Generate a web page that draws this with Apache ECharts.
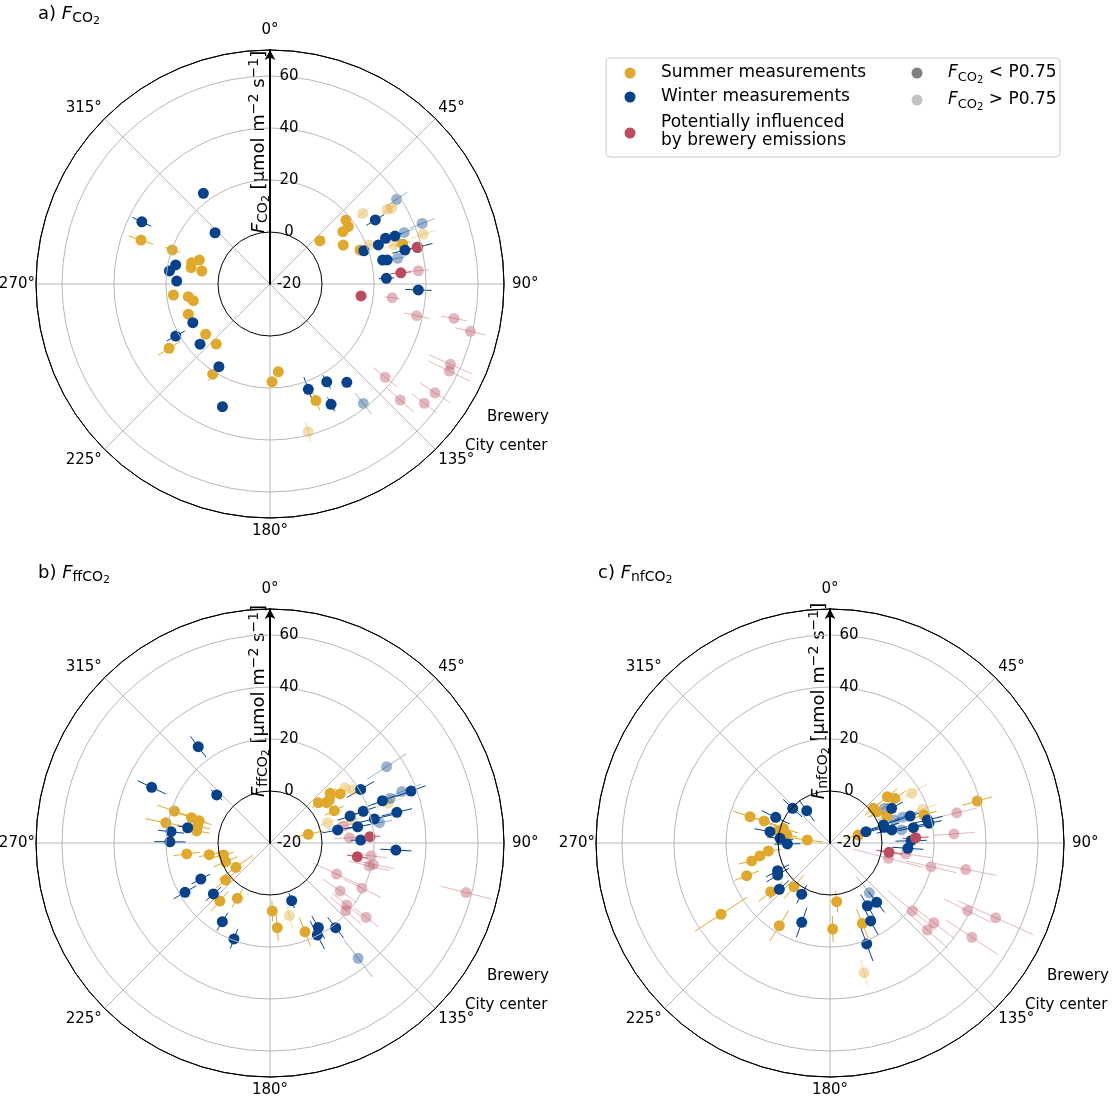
<!DOCTYPE html>
<html><head><meta charset="utf-8">
<script src="https://cdn.jsdelivr.net/npm/echarts@6/dist/echarts.min.js"></script>
<style>html,body{margin:0;padding:0;background:#fff}#c{width:1112px;height:1105px}</style>
</head><body><div id="c"></div>
<script>
// ---- data: [wind direction (deg), flux (umol m-2 s-1), uncertainty] ----
const aSummer = [[49.9,18.2,2],[53.8,17.3,2],[54.3,14.5,2],[49.1,5.4,1.5],[62.0,11.9,1.5],[69.3,17.0,2],[73.2,33.3,3],
  [158.5,28.2,4],[174.6,13.9,2],[178.8,17.6,2],[288.8,32.4,5],[289.2,19.8,3],[288.7,8.7,2],[285.2,11.2,2],[281.7,11.0,2],
  [280.8,6.7,2],[263.5,17.4,2],[261.2,11.8,2],[257.7,10.2,2],[249.7,13.5,2],[232.0,11.4,2],[221.8,11.0,2],[237.5,26.0,5],[212.4,21.1,3]];
const aSummerLight = [[58.1,35.1,4],[57.5,33.5,3],[52.7,24.8,3],[68.6,21.0,2],[72.0,42.0,5],[72.5,30.0,4],[165.5,38.7,4]];
const aWinter = [[58.7,27.4,4],[70.5,18.3,2],[70.2,24.3,2],[68.4,27.8,2],[69.0,31.5,3],[75.9,33.5,5],[76.0,38.4,6],[78.0,24.3,2],
  [78.4,26.0,2],[87.2,24.8,3],[92.3,37.1,5],[142.0,28.0,2],[149.9,23.5,3],[160.0,23.1,5],[153.1,31.9,3],[323.7,23.3,2],
  [295.9,34.8,4],[313.0,8.9,1.5],[281.4,17.0,1.5],[277.4,19.0,2],[271.8,15.9,1.5],[243.4,13.2,2],[229.3,15.5,1.5],
  [241.1,21.4,4],[211.7,17.4,1.5],[201.2,30.6,2]];
const aWinterLight = [[56.2,38.6,5],[69.0,35.3,4],[68.3,43.0,5],[78.6,30.1,3],[142.0,38.3,5]];
const aBrew = [[76.0,38.4,3],[85.1,30.5,4],[97.5,15.3,2]];
const aBrewLight = [[84.9,37.3,4],[96.4,27.3,3],[102.2,37.7,5],[100.6,52.0,5],[103.3,59.2,6],[114.0,56.0,9],[115.9,56.7,9],
  [129.0,37.0,6],[123.4,56.0,7],[131.7,47.1,7],[127.7,55.0,6]];

const bSummer = [[50.4,10.0,3],[55.0,12.9,3],[54.1,8.2,3],[50.2,4.2,3],[54.6,6.8,3],[63.3,7.7,4],[77.2,-4.9,6],[158.5,16.7,6],
  [288.5,18.8,7],[287.9,11.7,6],[287.4,8.6,5],[283.2,8.6,5],[279.3,8.6,5],[281.0,20.8,8],[262.5,12.3,5],[259.1,3.8,4],
  [255.6,-1.5,4],[247.1,-1.5,5],[234.4,-3.9,8],[230.1,2.2,5],[220.8,9.5,5],[210.6,4.7,4],[178.1,6.2,4],[175.1,12.7,5]];
const bSummerLight = [[53.6,15.8,4],[57.5,18.0,4],[71.4,28.0,6],[74.3,12.7,5],[70.6,3.5,5],[165.1,8.9,5]];
const bWinter = [[59.4,20.5,6],[69.8,37.8,6],[69.4,26.2,6],[71.2,17.9,5],[76.4,30.2,6],[71.4,12.5,5],[77.0,21.2,8],[79.1,6.5,6],
  [79.5,14.3,5],[88.1,14.9,4],[93.2,28.5,6],[159.4,3.7,3],[150.2,17.4,5],[152.8,19.8,6],[142.2,21.2,5],[323.3,26.2,5],
  [295.2,30.3,6],[312.0,7.6,3],[280.5,12.2,4],[276.5,18.3,5],[270.7,18.5,6],[242.5,10.0,4],[239.9,17.8,5],[228.0,9.3,4],
  [211.2,15.4,4],[200.6,19.4,4]];
const bWinterLight = [[56.8,33.6,9],[69.6,29.3,7],[68.7,34.4,8],[79.5,22.8,5],[142.6,35.8,9]];
const bBrew = [[86.4,18.5,4],[98.9,14.0,4]];
const bBrewLight = [[76.9,8.9,6],[86.2,10.6,6],[97.2,19.2,6],[101.7,20.6,8],[103.0,19.2,8],[115.0,8.3,10],[116.2,19.4,8],
  [124.4,12.7,8],[128.9,17.9,7],[131.8,19.1,8],[127.7,26.7,6],[104.2,57.8,10]];

const cSummer = [[51.1,8.3,5],[55.5,10.3,5],[51.3,1.3,4],[56.2,1.6,4],[64.5,4.2,4],[73.4,17.7,5],[74.2,-8.7,5],[74.1,38.9,6],
  [158.1,13.3,6],[173.5,2.7,4],[178.2,13.1,5],[288.2,12.4,7],[288.5,6.7,5],[287.5,-1.2,6],[283.4,0.4,5],[280.5,-3.1,4],
  [277.5,-11.2,6],[262.6,3.9,5],[259.5,7.4,5],[257.1,10.9,5],[248.6,14.4,5],[219.5,1.8,6],[230.6,9.5,6],[236.8,30.1,12],[211.5,17.3,7]];
const cSummerLight = [[58.7,16.8,7],[70.0,17.9,6],[165.3,31.6,5]];
const cWinter = [[60.6,7.2,5],[71.4,12.5,6],[76.7,18.5,6],[78.7,18.8,5],[71.3,1.7,6],[73.9,1.7,6],[72.6,-5.5,5],[78.1,4.3,6],
  [79.6,12.6,6],[88.4,11.2,6],[93.9,10.0,6],[141.8,9.0,5],[149.2,8.1,5],[152.4,13.8,6],[160.0,21.3,7],[312.9,-0.4,5],
  [324.2,-4.7,5],[295.3,3.1,6],[280.7,3.5,6],[275.4,-0.7,5],[268.7,-3.6,5],[242.1,2.8,5],[238.5,3.6,5],[227.6,6.4,5],
  [208.9,2.5,4],[199.6,12.4,6]];
const cWinterLight = [[57.4,4.8,6],[70.3,6.3,6],[70.5,9.7,6],[79.7,8.0,6],[141.7,4.4,8]];
const cBrew = [[86.5,13.0,5],[99.0,3.0,5]];
const cBrewLight = [[76.6,30.1,8],[85.8,27.8,8],[104.7,3.2,14],[98.2,9.5,10],[103.2,19.9,10],[101.0,33.2,12],[129.4,21.0,12],
  [116.2,39.0,10],[114.3,49.9,16],[127.5,30.4,10],[131.8,30.2,11],[123.6,45.5,12]];

const angleTicks = [0, 45, 90, 135, 180, 225, 270, 315];
const radiusTicks = [-20, 0, 20, 40, 60];
const panelTitles = ['a) ', 'b) ', 'c) '];
const panelSubs = ['CO', 'ffCO', 'nfCO'];

// ---- styling ----
const FONT = 'DejaVu Sans';
const COL = { summer: '#E1A92C', winter: '#04428C', brew: '#BC4B5D' };
const LIGHT = 0.4;
const RMIN = -20, RMAX = 70;

const panels = [
  { center: [270, 284], sets: [aSummer, aSummerLight, aWinter, aWinterLight, aBrew, aBrewLight] },
  { center: [270, 843], sets: [bSummer, bSummerLight, bWinter, bWinterLight, bBrew, bBrewLight] },
  { center: [830, 843], sets: [cSummer, cSummerLight, cWinter, cWinterLight, cBrew, cBrewLight] }
];
const groupDefs = [
  { color: COL.summer, op: 1 }, { color: COL.summer, op: LIGHT },
  { color: COL.winter, op: 1 }, { color: COL.winter, op: LIGHT },
  { color: COL.brew, op: 1 }, { color: COL.brew, op: LIGHT }
];
const drawOrder = [1, 3, 5, 0, 2, 4];

const lbl = { fontSize: 15, fontFamily: FONT, color: '#000' };
const angleRich = {
  t: Object.assign({ padding: [0, 0, 11, 0] }, lbl),
  b: Object.assign({ padding: [5, 0, 0, 0] }, lbl),
  r: Object.assign({ padding: [0, 0, 0, 7] }, lbl),
  l: Object.assign({ padding: [0, 0, 0, 0] }, lbl),
  d: Object.assign({ padding: [2, 2, 2, 2] }, lbl)
};
function angleLabel(v) {
  if (angleTicks.indexOf(v) < 0) return '';
  const key = v === 0 ? 't' : v === 180 ? 'b' : v === 90 ? 'r' : v === 270 ? 'l' : 'd';
  return '{' + key + '|' + v + '°}';
}

const polar = [], angleAxis = [], radiusAxis = [], series = [];
panels.forEach((p, i) => {
  polar.push({ center: p.center, radius: 234 });
  angleAxis.push({
    polarIndex: i, type: 'value', min: 0, max: 360, interval: 45, startAngle: 90, clockwise: true,
    axisLine: { lineStyle: { color: '#000', width: 1 } },
    axisTick: { show: false },
    axisLabel: { margin: 1, color: '#000', fontSize: 15, fontFamily: FONT, formatter: angleLabel, rich: angleRich },
    splitLine: { show: true, lineStyle: { color: '#b8b8b8', width: 1 } }
  });
  radiusAxis.push({
    polarIndex: i, type: 'value', min: RMIN, max: RMAX, interval: 20,
    axisLine: { show: true, symbol: ['none', 'arrow'], symbolSize: [8, 10], lineStyle: { color: '#000', width: 2 } },
    axisTick: { show: false },
    axisLabel: { color: '#000', fontSize: 15, fontFamily: FONT, margin: -19, align: 'center',
      formatter: v => radiusTicks.indexOf(v) >= 0 ? String(v) : '' },
    splitLine: { show: true, lineStyle: { width: 1, color: ['#b8b8b8', '#000', '#b8b8b8', '#b8b8b8', '#b8b8b8', '#000'] } },
    z: 5
  });
  drawOrder.forEach(g => {
    const def = groupDefs[g];
    series.push({
      type: 'custom', coordinateSystem: 'polar', polarIndex: i, silent: true, z: 2,
      data: p.sets[g].map(d => [d[1], d[0], d[2]]),
      encode: { radius: 0, angle: 1 },
      renderItem: (params, api) => {
        const f = api.value(0), a = api.value(1), e = api.value(2);
        const p1 = api.coord([Math.max(RMIN, f - e), a]);
        const p2 = api.coord([Math.min(RMAX, f + e), a]);
        return { type: 'line', shape: { x1: p1[0], y1: p1[1], x2: p2[0], y2: p2[1] },
          style: { stroke: def.color, opacity: def.op, lineWidth: 1 } };
      }
    });
  });
  drawOrder.forEach(g => {
    const def = groupDefs[g];
    series.push({
      type: 'scatter', coordinateSystem: 'polar', polarIndex: i, silent: true, z: 3,
      symbolSize: 11,
      data: p.sets[g].map(d => [d[1], d[0]]),
      itemStyle: { color: def.color, opacity: def.op }
    });
  });
});

function richSet(size, sub) {
  return {
    n: { fontSize: size, fontFamily: FONT, fill: '#000' },
    i: { fontSize: size, fontFamily: FONT, fontStyle: 'italic', fill: '#000' },
    s: { fontSize: sub, fontFamily: FONT, fill: '#000', padding: [Math.round(size * 0.5), 0, 0, 0] },
    z: { fontSize: Math.round(sub * 0.75), fontFamily: FONT, fill: '#000', padding: [Math.round(size * 0.85), 0, 0, 0] },
    u: { fontSize: sub, fontFamily: FONT, fill: '#000', padding: [0, 0, Math.round(size * 0.55), 0] }
  };
}
const richTitle = richSet(18, 14);
const richName = richSet(18, 14);
const richLeg = richSet(17, 13);

const graphic = [];
panels.forEach((p, i) => {
  const cx = p.center[0], cy = p.center[1];
  graphic.push({ type: 'text', x: cx - 232, y: cy - 270, style: {
    text: '{n|' + panelTitles[i] + '}{i|F}{s|' + panelSubs[i] + '}{z|2}', rich: richTitle, verticalAlign: 'middle' } });
  graphic.push({ type: 'text', x: cx - 11, y: cy - 142, rotation: Math.PI / 2, style: {
    text: '{i|F}{s|' + panelSubs[i] + '}{z|2}{n| [µmol m}{u|−2}{n| s}{u|−1}{n|]}', rich: richName, align: 'center', verticalAlign: 'middle' } });
  graphic.push({ type: 'text', x: cx + 217, y: cy + 133, style: { text: 'Brewery', font: '15px "DejaVu Sans"', fill: '#000', verticalAlign: 'middle' } });
  graphic.push({ type: 'text', x: cx + 195, y: cy + 162, style: { text: 'City center', font: '15px "DejaVu Sans"', fill: '#000', verticalAlign: 'middle' } });
});
// legend
const lf = '17px "DejaVu Sans"';
graphic.push({ type: 'rect', shape: { x: 606, y: 58, width: 454, height: 99, r: 4 }, style: { fill: '#fff', stroke: '#cccccc', lineWidth: 1 } });
[[630, 73, COL.summer], [630, 97, COL.winter], [630, 133, COL.brew], [917, 73, '#7f7f7f'], [917, 100, '#c3c3c3']].forEach(c => {
  graphic.push({ type: 'circle', shape: { cx: c[0], cy: c[1], r: 5.5 }, style: { fill: c[2] } });
});
[['Summer measurements', 73], ['Winter measurements', 97], ['Potentially influenced', 123], ['by brewery emissions', 141]].forEach(t => {
  graphic.push({ type: 'text', x: 661, y: t[1], style: { text: t[0], font: lf, fill: '#000', verticalAlign: 'middle' } });
});
graphic.push({ type: 'text', x: 948, y: 73, style: { text: '{i|F}{s|CO}{z|2}{n| < P0.75}', rich: richLeg, verticalAlign: 'middle' } });
graphic.push({ type: 'text', x: 948, y: 100, style: { text: '{i|F}{s|CO}{z|2}{n| > P0.75}', rich: richLeg, verticalAlign: 'middle' } });

const chart = echarts.init(document.getElementById('c'));
chart.setOption({
  animation: false, backgroundColor: '#fff',
  polar, angleAxis, radiusAxis, series, graphic
});
</script></body></html>
